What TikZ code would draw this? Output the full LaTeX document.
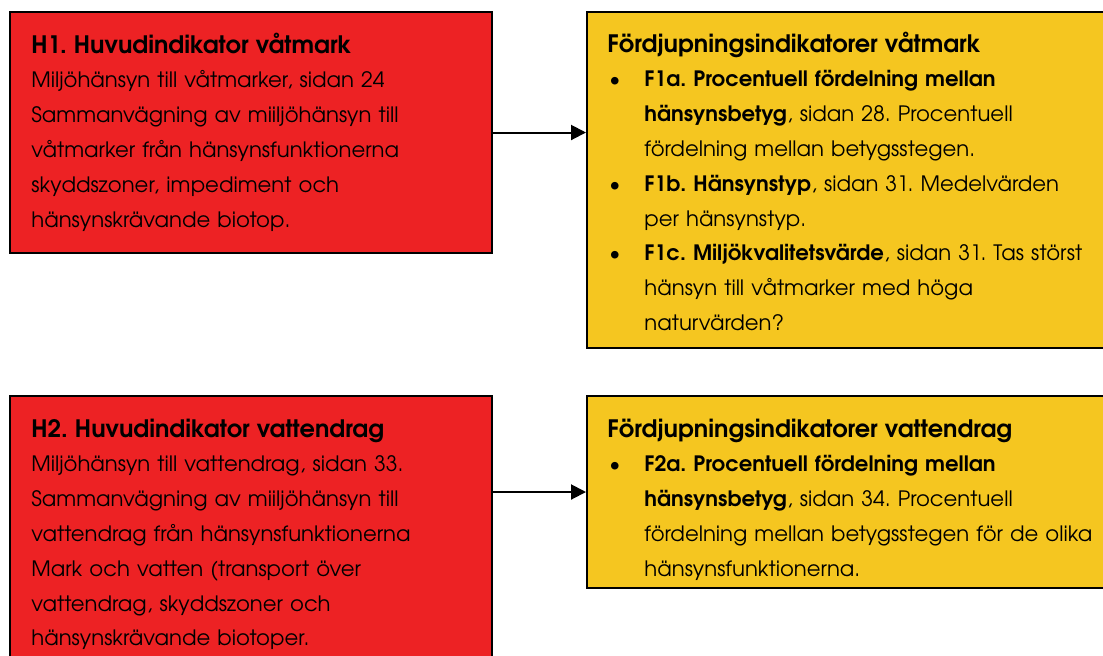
\documentclass[tikz,border=0pt]{standalone}
\usepackage{fontspec}
\setmainfont{texgyreadventor}[Extension=.otf, UprightFont=*-regular, BoldFont=*-bold]
\usetikzlibrary{arrows.meta,positioning}
\definecolor{hred}{RGB}{237,34,36}
\definecolor{fyellow}{RGB}{245,198,32}

% heading line and bullet item with hanging indent
\newcommand{\boxhead}[1]{{\fontsize{12}{17.4}\selectfont\textbf{#1}}}
\newcommand{\bitem}[1]{\par\hangindent=18.5pt\hangafter=1\noindent
  \makebox[18.5pt][l]{\hspace{1pt}\textbullet}#1\par}

\begin{document}
\frenchspacing
\begin{tikzpicture}[
  x=0.5pt, y=-0.5pt,
  font=\fontsize{10.6}{17.4}\selectfont,
  hbox/.style={draw, line width=1pt, fill=hred, anchor=north west, inner sep=0pt},
  fbox/.style={draw, line width=1pt, fill=fyellow, anchor=north west, inner sep=0pt},
  txt/.style={anchor=base west, inner sep=0pt, align=left},
  link/.style={line width=1pt, -{Triangle[length=7.5pt,width=7.5pt]}}
]
\useasboundingbox (0,0) rectangle (1103,655);

\def\xL{9}
\def\xR{586}
\def\yTop{11}
\def\yBot{395}

% ------------------------
% Boxes
% ------------------------
\node[hbox, minimum width=241pt, minimum height=120.5pt] (h1) at (\xL,\yTop) {};
\node[fbox, minimum width=261pt, minimum height=168pt]   (f1) at (\xR,\yTop) {};
\node[hbox, minimum width=241pt, minimum height=140pt]   (h2) at (\xL,\yBot) {};
\node[fbox, minimum width=261pt, minimum height=96pt]    (f2) at (\xR,\yBot) {};

% ------------------------
% Texts
% ------------------------
\node[txt, text width=228pt] (h1txt) at (31,53) {%
  \boxhead{H1. Huvudindikator våtmark}\\
  Miljöhänsyn till våtmarker, sidan 24\\
  Sammanvägning av miiljöhänsyn till\\
  våtmarker från hänsynsfunktionerna\\
  skyddszoner, impediment och\\
  hänsynskrävande biotop.};

\node[txt, text width=250pt] (f1txt) at (607,52) {%
  \boxhead{Fördjupningsindikatorer våtmark}
  \bitem{\textbf{F1a. Procentuell fördelning mellan}\newline
    \textbf{hänsynsbetyg}, sidan 28. Procentuell\newline
    fördelning mellan betygsstegen.}
  \bitem{\textbf{F1b. Hänsynstyp}, sidan 31. Medelvärden\newline
    per hänsynstyp.}
  \bitem{\textbf{F1c. Miljökvalitetsvärde}, sidan 31. Tas störst\newline
    hänsyn till våtmarker med höga\newline
    naturvärden?}};

\node[txt, text width=228pt] (h2txt) at (31,437) {%
  \boxhead{H2. Huvudindikator vattendrag}\\
  Miljöhänsyn till vattendrag, sidan 33.\\
  Sammanvägning av miiljöhänsyn till\\
  vattendrag från hänsynsfunktionerna\\
  Mark och vatten (transport över\\
  vattendrag, skyddszoner och\\
  hänsynskrävande biotoper.};

\node[txt, text width=250pt] (f2txt) at (607,437) {%
  \boxhead{Fördjupningsindikatorer vattendrag}
  \bitem{\textbf{F2a. Procentuell fördelning mellan}\newline
    \textbf{hänsynsbetyg}, sidan 34. Procentuell\newline
    fördelning mellan betygsstegen för de olika\newline
    hänsynsfunktionerna.}};

% ------------------------
% Arrows
% ------------------------
\draw[link] (h1.east) -- (h1.east -| f1.west);
\draw[link] (f2.west -| h2.east) -- (f2.west);

\end{tikzpicture}
\end{document}
